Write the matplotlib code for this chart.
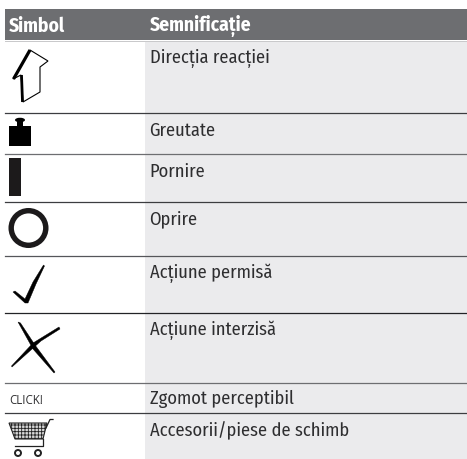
import matplotlib
matplotlib.use("Agg")
import matplotlib.pyplot as plt
from matplotlib import font_manager as fm
from matplotlib.patches import Rectangle, Polygon, Circle, Ellipse

headers = ["Simbol", "Semnificație"]
meanings = ["Direcția reacției", "Greutate", "Pornire", "Oprire",
            "Acțiune permisă", "Acțiune interzisă", "Zgomot perceptibil",
            "Accesorii/piese de schimb"]
rowTops = [41, 113, 154, 202, 256, 313, 383, 413]
rowBottoms = [113, 154, 202, 256, 313, 383, 413, 459]
ruleColors = ["#3c3d40", "#6d6e71", "#3c3d40", "#55565a", "#222326", "#6d6e71", "#3c3d40", None]
W, H = 467, 459
colLeft, colSplit = 5, 145

# condensed face if there is one, else the plain one
installed = {f.name for f in fm.fontManager.ttflist}
narrow = [n for n in ["Fira Sans Condensed", "Roboto Condensed", "Liberation Sans Narrow", "Liberation Sans"]
          if n in installed]

fig = plt.figure(figsize=(W/100, H/100), dpi=100)
ax = fig.add_axes([0, 0, 1, 1])
ax.set_xlim(0, W)
ax.set_ylim(H, 0)
ax.axis("off")

# header + table body
ax.add_patch(Rectangle((colLeft, 9), W-colLeft, 31, fc="#6d6e71", ec="none"))
ax.text(9, 26, headers[0], family=narrow, weight="bold", fontsize=14, color="white", va="center")
ax.text(149.5, 26, headers[1], family=narrow, weight="bold", fontsize=14, color="white", va="center")
ax.add_patch(Rectangle((colSplit, 41), W-colSplit, H-41, fc="#ebebed", ec="none"))
ax.plot([colLeft, W], [40.5, 40.5], color="#c8c8ca", lw=0.7)

for top, bottom, text, c in zip(rowTops, rowBottoms, meanings, ruleColors):
    ax.text(149.5, top+17.5 if bottom-top > 31 else (top+bottom)/2+0.5, text, family=narrow, fontsize=13.3,
            color="#2e2e30", va="center")
    if c:
        ax.plot([colLeft, W], [bottom, bottom], color=c, lw=0.9)

# arrow
ax.add_patch(Polygon([(30, 50), (48, 61), (40, 67), (40, 92), (23, 102), (21, 75), (13, 79)],
                     fc="white", ec="black", lw=0.8))
ax.plot([30, 13.5], [50, 79], color="black", lw=2.3, solid_capstyle="butt")
ax.plot([21.5, 22.5], [75, 102], color="black", lw=2, solid_capstyle="butt")

# weight
ax.add_patch(Rectangle((9, 126), 22, 20, fc="black", ec="none"))
ax.add_patch(Rectangle((17, 120), 6, 6, fc="black", ec="none"))
ax.add_patch(Ellipse((20, 120), 10, 4.5, fc="black", ec="none"))

# on / off
ax.add_patch(Rectangle((9, 158), 12, 38, fc="#1c1a1b", ec="none"))
ax.add_patch(Circle((28.5, 228), 17.3, fc="none", ec="#1c1a1b", lw=3.9))

# check, tapered
ax.add_patch(Polygon([(13, 292), (15, 291), (25, 299), (33, 282), (43.5, 265), (44.5, 266),
                      (36, 284), (28, 303), (25, 303)], fc="black", ec="black", lw=0.3))

# cross, tapered
ax.add_patch(Polygon([(18, 322), (20.5, 323), (35, 345), (55, 372), (54, 373), (33, 349)],
                     fc="black", ec="black", lw=0.3))
ax.add_patch(Polygon([(59, 327), (60, 329), (41, 341), (12, 367), (11.5, 366), (33, 343)],
                     fc="black", ec="black", lw=0.3))

# click
ax.text(9, 400, "CLICK!", family=["Open Sans", "DejaVu Sans"], fontsize=8.3, color="#2e2e30", va="center")

# cart
plt.rcParams["hatch.linewidth"] = 0.6
ax.add_patch(Polygon([(9, 423), (47, 423), (43, 439), (15, 439)], fc="#d8d8d8", ec="#222222", lw=0.8, hatch="+++++"))
ax.plot([46, 50, 53], [428, 419.5, 419.5], color="#222222", lw=0.9)
ax.plot([43, 43, 15], [439, 446, 446], color="#222222", lw=0.9)
ax.add_patch(Circle((18, 453), 3, fc="white", ec="#222222", lw=1.4))
ax.add_patch(Circle((38, 453), 3, fc="white", ec="#222222", lw=1.4))

fig.savefig("out.png", dpi=100)
